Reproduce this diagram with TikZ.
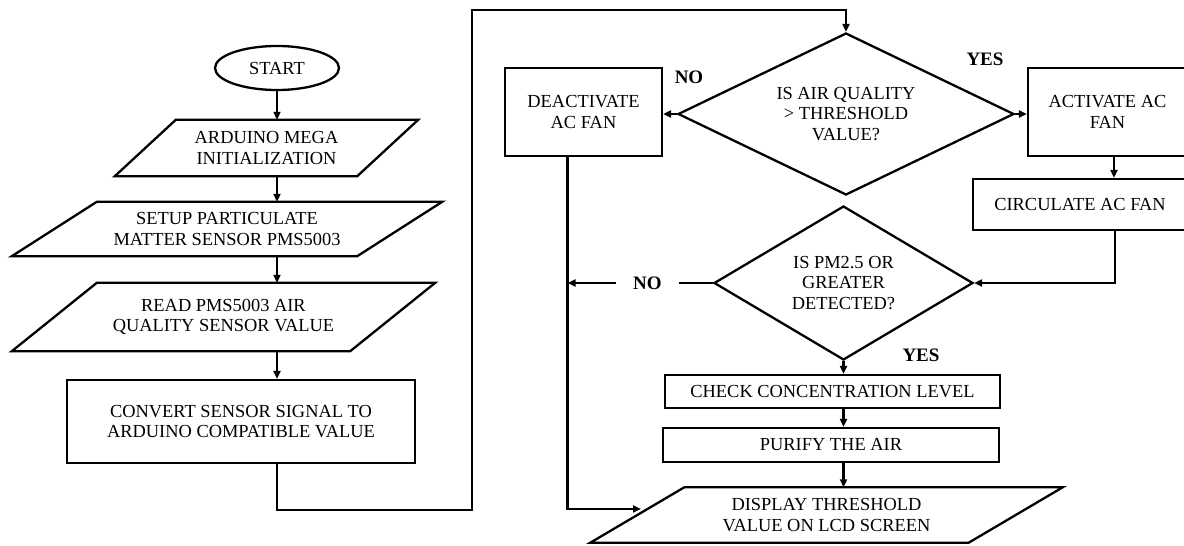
\documentclass[tikz,border=0pt]{standalone}
\usepackage{fontspec}
\setmainfont{Liberation Serif}
\usetikzlibrary{shapes.geometric,arrows.meta,calc}

% outline of a slanted input/output box drawn around node #1, top edge shifted right by #2
\newcommand\slantoutline[2]{%
  \draw[line] ([xshift={-(#2)/2}]#1.south west) -- ([xshift={-(#2)/2}]#1.south east)
    -- ([xshift={(#2)/2}]#1.north east) -- ([xshift={(#2)/2}]#1.north west) -- cycle;}

\tikzset{
  line/.style={line width=2.3pt, line join=miter},
  arr/.style={line width=2.3pt, -{Triangle[length=8pt,width=7pt]}},
  txt/.style={font=\fontsize{18.4}{20.5}\selectfont, align=center, inner sep=0pt},
  proc/.style={txt, draw, line width=2.3pt, rectangle},
  io/.style={txt, rectangle},
  dec/.style={txt, draw, line width=2.3pt, diamond, aspect=2},
  term/.style={txt, draw, line width=2.3pt, ellipse},
  lbl/.style={font=\bfseries\fontsize{19}{21}\selectfont, inner sep=0pt},
}

\begin{document}
\begin{tikzpicture}[x=1pt, y=-1pt]
\useasboundingbox (0,0) rectangle (1184,546);

% left column
\node[term, minimum width=124pt, minimum height=44pt] (start) at (277,68) {START};
\node[io, minimum width=242pt, minimum height=56pt] (p1) at (266.5,148)
  {ARDUINO MEGA\\INITIALIZATION};
\slantoutline{p1}{61}
\node[io, minimum width=345pt, minimum height=54pt] (p2) at (227,229)
  {SETUP PARTICULATE\\MATTER SENSOR PMS5003};
\slantoutline{p2}{85}
\node[io, minimum width=338pt, minimum height=68pt] (p3) at (223.5,317)
  {READ PMS5003 AIR\\QUALITY SENSOR VALUE};
\slantoutline{p3}{85}
\node[proc, minimum width=348pt, minimum height=83pt] (conv) at (241,421.5)
  {CONVERT SENSOR SIGNAL TO\\ARDUINO COMPATIBLE VALUE};

% right part
\node[dec, minimum width=336pt, minimum height=162pt] (d1) at (846,114)
  {IS AIR QUALITY\\> THRESHOLD\\VALUE?};
\node[proc, minimum width=157pt, minimum height=88pt] (deact) at (583.5,112)
  {DEACTIVATE\\AC FAN};
\node[proc, minimum width=159pt, minimum height=88pt] (act) at (1107.5,112)
  {ACTIVATE AC\\FAN};
\node[proc, minimum width=214pt, minimum height=51pt] (circ) at (1080,204.5)
  {CIRCULATE AC FAN};
\node[dec, minimum width=259pt, minimum height=154pt] (d2) at (843.5,283)
  {IS PM2.5 OR\\GREATER\\DETECTED?};
\node[proc, minimum width=335pt, minimum height=33pt] (check) at (832.5,391.5)
  {CHECK CONCENTRATION LEVEL};
\node[proc, minimum width=336pt, minimum height=34pt] (purify) at (831,445)
  {PURIFY THE AIR};
\node[io, minimum width=378pt, minimum height=55pt] (disp) at (826.5,515)
  {DISPLAY THRESHOLD\\VALUE ON LCD SCREEN};
\slantoutline{disp}{94}

% branch labels
\node[lbl] (lno1) at (689,77) {NO};
\node[lbl] (lyes1) at (985,59) {YES};
\node[lbl] (lyes2) at (921,355) {YES};

% helper points of the connectors
\coordinate (bend1) at (472,510);
\coordinate (bend2) at (472,10);
\coordinate (dtop) at ([xshift=-16pt]deact.south);
\coordinate (dl) at (641,509);

% left column flow
\draw[arr] (start.south) -- (start.south |- p1.north);
\draw[arr] (p1.south -| start) -- (p2.north -| start);
\draw[arr] (p2.south -| start) -- (p3.north -| start);
\draw[arr] (p3.south -| start) -- (conv.north -| start);
\draw[arr] (conv.south -| start) |- (bend1) -- (bend2) -| (d1.north);

% first decision
\draw[arr] (d1.west) -- (d1.west -| deact.east);
\draw[arr] (d1.east) -- (d1.east -| act.west);
\draw[arr] ([xshift=6.5pt]act.south) -- ([xshift=6.5pt]act.south |- circ.north);
\draw[arr] ([xshift=35pt]circ.south) |- (d2.east);

% second decision
\draw[arr] (d2.west) -- node[pos=0.45, lbl, fill=white, inner xsep=17pt, inner ysep=3pt] {NO}
  (d2.west -| dtop);
\draw[arr] (d2.south) -- (d2.south |- check.north);
\draw[arr] (d2.south |- check.south) -- (d2.south |- purify.north);
\draw[arr] (d2.south |- purify.south) -- (d2.south |- disp.north);
\draw[arr] (dtop) |- (dl);
\end{tikzpicture}
\end{document}
